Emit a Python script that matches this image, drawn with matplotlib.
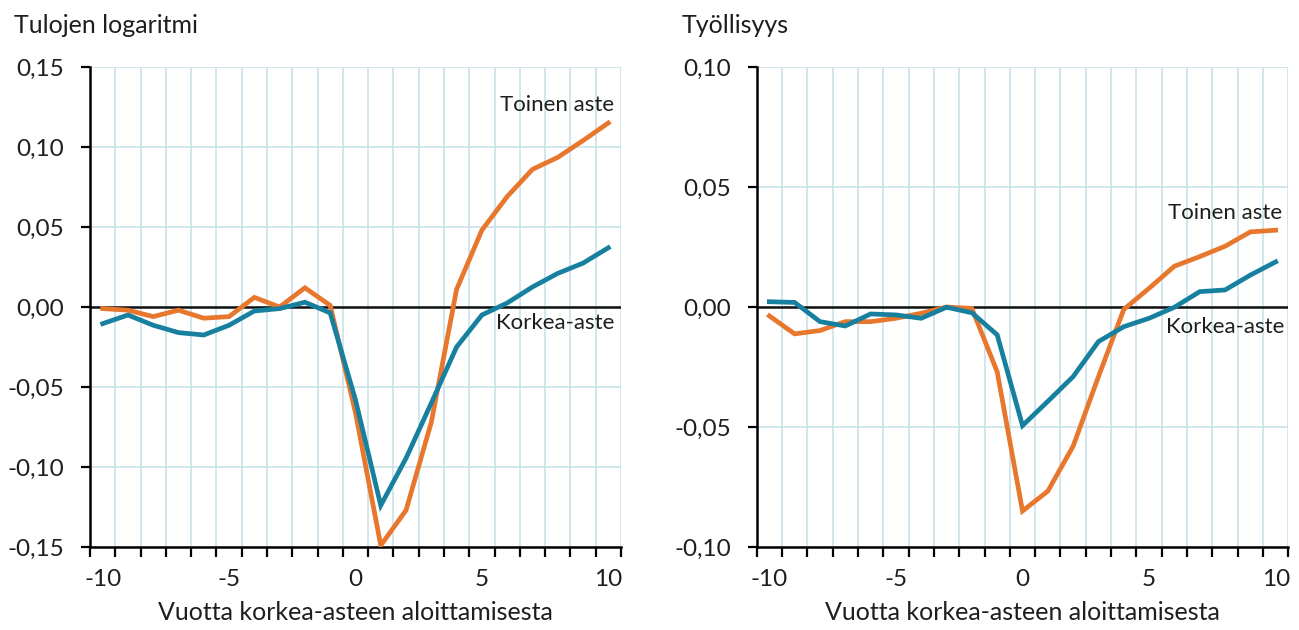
import numpy as np
import matplotlib
matplotlib.use("Agg")
import matplotlib.pyplot as plt
from matplotlib.ticker import FuncFormatter, MultipleLocator, FixedLocator

plt.rcParams['font.family'] = ['Lato', 'DejaVu Sans']
plt.rcParams['axes.unicode_minus'] = False

# -------------------------------
# data
# -------------------------------
years = np.arange(-10, 11)

# Tulojen logaritmi (income, log)
tulot_toinen = [-0.001, -0.002, -0.006, -0.002, -0.007, -0.006, 0.006, 0.000, 0.012, 0.001,
                -0.066, -0.149, -0.127, -0.072, 0.011, 0.048, 0.069, 0.086, 0.0935, 0.104, 0.115]
tulot_korkea = [-0.0104, -0.005, -0.0114, -0.016, -0.0175, -0.0114, -0.0025, -0.001, 0.003, -0.0037,
                -0.058, -0.124, -0.0945, -0.060, -0.025, -0.005, 0.0025, 0.0125, 0.021, 0.0274, 0.037]

# Työllisyys (employment)
tyo_toinen = [-0.0037, -0.0112, -0.0098, -0.0061, -0.0061, -0.0047, -0.0026, 0.000, -0.0006, -0.027,
              -0.085, -0.0767, -0.058, -0.029, -0.001, 0.0078, 0.017, 0.021, 0.0253, 0.0313, 0.032]
tyo_korkea = [0.0022, 0.0019, -0.0061, -0.0079, -0.0029, -0.0033, -0.0047, -0.0001, -0.0024, -0.0116,
              -0.0494, -0.0393, -0.029, -0.0144, -0.0082, -0.0047, -0.0001, 0.0064, 0.0071, 0.0133, 0.0188]

ORANGE = "#E8772E"
BLUE = "#17809F"
GRID = "#C9E1EA"
TXT = "#1E1E1E"

fig = plt.figure(figsize=(12.99, 6.30), dpi=100)
ax1 = fig.add_axes([0.0693, 0.1317, 0.4087, 0.762])
ax2 = fig.add_axes([0.5825, 0.1317, 0.4093, 0.762])


def style_axis(ax, ylim, step, title, title_x):
    ax.set_xlim(-10.5, 10.5)
    ax.set_ylim(*ylim)
    ax.yaxis.set_major_locator(MultipleLocator(step))
    ax.yaxis.set_major_formatter(FuncFormatter(lambda v, p: f"{v:.2f}".replace(".", ",")))
    ax.xaxis.set_major_locator(FixedLocator([-10, -5, 0, 5, 10]))
    ax.xaxis.set_minor_locator(FixedLocator(np.arange(-10.5, 11, 1)))
    ax.tick_params(axis="x", which="major", length=0, pad=16, labelsize=17.5, colors=TXT)
    ax.tick_params(axis="x", which="minor", length=7, width=1.6, direction="out", color="black")
    ax.tick_params(axis="y", length=6.5, width=1.6, direction="out", labelsize=17.5, colors=TXT, pad=12)
    ax.tick_params(axis="y", color="black")
    ax.grid(True, which="minor", axis="x", color=GRID, lw=1.2)
    ax.grid(True, which="major", axis="y", color=GRID, lw=1.2)
    ax.set_axisbelow(True)
    for s in ["top", "right"]:
        ax.spines[s].set_visible(False)
    ax.spines["left"].set_linewidth(1.8)
    ax.spines["bottom"].set_linewidth(1.8)
    ax.axhline(0, color="#111111", lw=1.8, zorder=2)
    ax.set_xlabel("Vuotta korkea-asteen aloittamisesta", fontsize=18, color=TXT, labelpad=8)
    ax.text(title_x, 1.087, title, transform=ax.transAxes,
            fontsize=18, color=TXT, ha="left", va="center")


style_axis(ax1, (-0.15, 0.15), 0.05, "Tulojen logaritmi", -0.143)
style_axis(ax2, (-0.10, 0.10), 0.05, "Työllisyys", -0.1405)

ax1.plot(years, tulot_toinen, color=ORANGE, lw=3.4, zorder=3, solid_joinstyle="miter")
ax1.plot(years, tulot_korkea, color=BLUE, lw=3.4, zorder=4, solid_joinstyle="miter")
ax2.plot(years, tyo_toinen, color=ORANGE, lw=3.4, zorder=3, solid_joinstyle="miter")
ax2.plot(years, tyo_korkea, color=BLUE, lw=3.4, zorder=4, solid_joinstyle="miter")

ax1.text(10.22, 0.126, "Toinen aste", fontsize=16, ha="right", va="center", color=TXT)
ax1.text(10.26, -0.010, "Korkea-aste", fontsize=16, ha="right", va="center", color=TXT)
ax2.text(10.25, 0.039, "Toinen aste", fontsize=16, ha="right", va="center", color=TXT)
ax2.text(10.33, -0.0083, "Korkea-aste", fontsize=16, ha="right", va="center", color=TXT)

fig.savefig("out.png", dpi=100)
